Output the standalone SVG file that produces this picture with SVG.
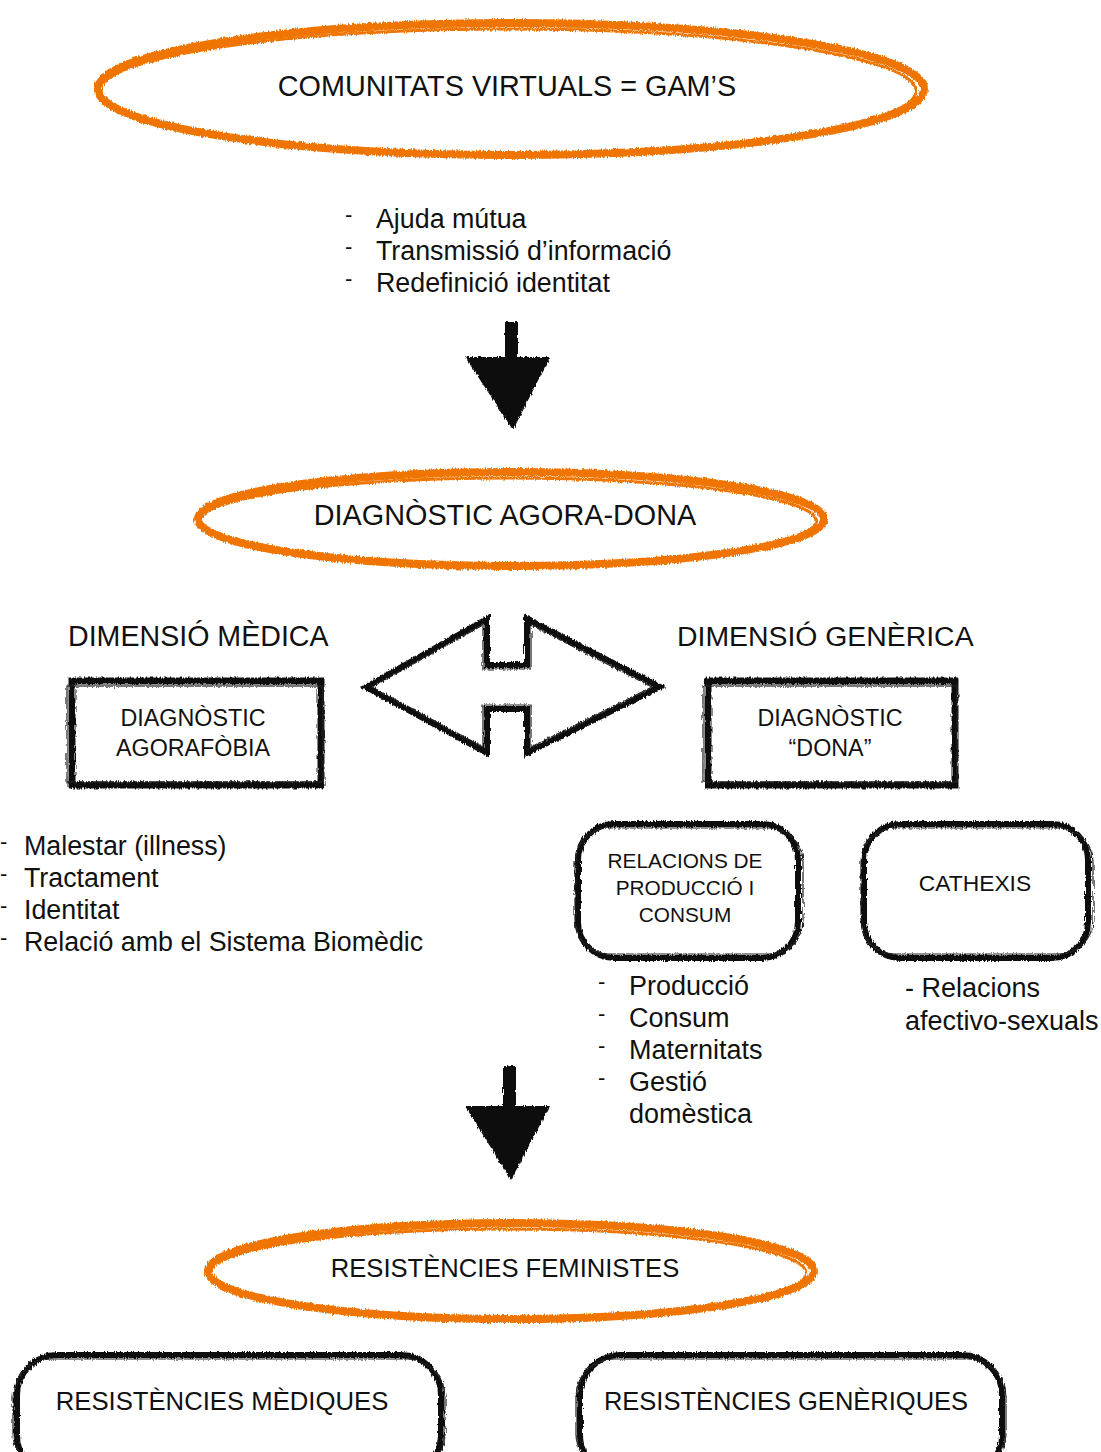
<svg xmlns="http://www.w3.org/2000/svg" width="1101" height="1452" viewBox="0 0 1101 1452">
<defs>
<filter id="rough" x="-5%" y="-5%" width="110%" height="110%">
<feTurbulence type="fractalNoise" baseFrequency="0.9 0.15" numOctaves="2" seed="3" result="n"/>
<feDisplacementMap in="SourceGraphic" in2="n" scale="4" xChannelSelector="R" yChannelSelector="G"/>
</filter>
<style>
.t{font-family:"Liberation Sans",Arial,sans-serif;fill:#111;}
.orange{fill:none;stroke:#F07400;stroke-linecap:round;}
.brush{fill:none;stroke:#111;stroke-linejoin:miter;}
.thin{fill:none;stroke:#222;stroke-width:1.2;}
.arrowfill{fill:#111;}
</style>
</defs>
<rect width="1101" height="1452" fill="#fff"/>

<g id="connectors">
<g id="arrow-down-1" filter="url(#rough)">
<rect x="505" y="322" width="13" height="40" class="arrowfill"/>
<polygon points="465,357 550,357 513,430" class="arrowfill"/>
</g>
<g id="double-arrow" filter="url(#rough)">
<polygon points="366,687 487,619 487,665 527,665 527,619 660,687 527,753 527,709 487,709 487,753" class="brush" stroke-width="6"/>
<polygon points="372,687 483,625 483,669 531,669 531,625 652,687 531,747 531,705 483,705 483,747" class="thin"/>
</g>
<g id="arrow-down-2" filter="url(#rough)">
<rect x="503" y="1066" width="13" height="44" class="arrowfill"/>
<polygon points="465,1106 550,1106 511,1180" class="arrowfill"/>
</g>
</g>

<g id="node-comunitats">
<g filter="url(#rough)">
<ellipse cx="511" cy="89" rx="413" ry="66" class="orange" stroke-width="8"/>
<ellipse cx="508" cy="91" rx="408" ry="62" class="orange" stroke-width="3"/>
</g>
<text x="507" y="96" text-anchor="middle" font-size="28.8" class="t">COMUNITATS VIRTUALS = GAM’S</text>
</g>

<g id="list-gams" class="t" font-size="26.8">
<text x="345" y="222" font-size="22">-</text><text x="376" y="228">Ajuda mútua</text>
<text x="345" y="254" font-size="22">-</text><text x="376" y="260">Transmissió d’informació</text>
<text x="345" y="286" font-size="22">-</text><text x="376" y="292">Redefinició identitat</text>
</g>

<g id="node-diagnostic">
<g filter="url(#rough)">
<ellipse cx="511" cy="519" rx="313" ry="47" class="orange" stroke-width="8"/>
<ellipse cx="508" cy="521" rx="308" ry="43" class="orange" stroke-width="3"/>
</g>
<text x="505" y="525" text-anchor="middle" font-size="28.8" class="t">DIAGNÒSTIC AGORA-DONA</text>
</g>

<g id="label-dim-medica"><text x="68" y="646" font-size="28.6" class="t">DIMENSIÓ MÈDICA</text></g>
<g id="label-dim-generica"><text x="677" y="646" font-size="28.4" class="t">DIMENSIÓ GENÈRICA</text></g>

<g id="node-agorafobia">
<g filter="url(#rough)">
<rect x="72" y="681" width="249" height="104" class="brush" stroke-width="7"/>
<rect x="67" y="686" width="256" height="96" class="thin"/>
</g>
<text x="193" y="726" text-anchor="middle" font-size="23.3" class="t">DIAGNÒSTIC</text>
<text x="193" y="756" text-anchor="middle" font-size="23.3" class="t">AGORAFÒBIA</text>
</g>

<g id="node-dona">
<g filter="url(#rough)">
<rect x="708" y="681" width="247" height="104" class="brush" stroke-width="7"/>
<rect x="703" y="686" width="254" height="96" class="thin"/>
</g>
<text x="830" y="726" text-anchor="middle" font-size="23.3" class="t">DIAGNÒSTIC</text>
<text x="830" y="756" text-anchor="middle" font-size="23.3" class="t">“DONA”</text>
</g>

<g id="list-medica" class="t" font-size="26.8">
<text x="0" y="849" font-size="22">-</text><text x="24" y="855">Malestar (illness)</text>
<text x="0" y="881" font-size="22">-</text><text x="24" y="887">Tractament</text>
<text x="0" y="913" font-size="22">-</text><text x="24" y="919">Identitat</text>
<text x="0" y="945" font-size="22">-</text><text x="24" y="951">Relació amb el Sistema Biomèdic</text>
</g>

<g id="node-relacions">
<g filter="url(#rough)">
<rect x="578" y="824" width="220" height="134" rx="36" class="brush" stroke-width="6"/>
<rect x="575" y="828" width="228" height="126" rx="34" class="thin"/>
</g>
<text x="685" y="868" text-anchor="middle" font-size="20.8" class="t">RELACIONS DE</text>
<text x="685" y="895" text-anchor="middle" font-size="20.8" class="t">PRODUCCIÓ I</text>
<text x="685" y="922" text-anchor="middle" font-size="20.8" class="t">CONSUM</text>
</g>

<g id="node-cathexis">
<g filter="url(#rough)">
<rect x="864" y="824" width="224" height="134" rx="36" class="brush" stroke-width="6"/>
<rect x="861" y="828" width="232" height="126" rx="34" class="thin"/>
</g>
<text x="975" y="891" text-anchor="middle" font-size="22.8" class="t">CATHEXIS</text>
</g>

<g id="list-relacions" class="t" font-size="27">
<text x="598" y="989" font-size="22">-</text><text x="629" y="995">Producció</text>
<text x="598" y="1021" font-size="22">-</text><text x="629" y="1027">Consum</text>
<text x="598" y="1053" font-size="22">-</text><text x="629" y="1059">Maternitats</text>
<text x="598" y="1085" font-size="22">-</text><text x="629" y="1091">Gestió</text>
<text x="629" y="1123">domèstica</text>
</g>

<g id="list-cathexis" class="t" font-size="27">
<text x="905" y="997">- Relacions</text>
<text x="905" y="1030">afectivo-sexuals</text>
</g>

<g id="node-resistencies">
<g filter="url(#rough)">
<ellipse cx="511" cy="1271" rx="303" ry="48" class="orange" stroke-width="8"/>
<ellipse cx="508" cy="1273" rx="298" ry="44" class="orange" stroke-width="3"/>
</g>
<text x="505" y="1277" text-anchor="middle" font-size="25.6" class="t">RESISTÈNCIES FEMINISTES</text>
</g>

<g id="node-res-mediques">
<g filter="url(#rough)">
<rect x="17" y="1355" width="424" height="120" rx="40" class="brush" stroke-width="6"/>
<rect x="13" y="1359" width="432" height="112" rx="38" class="thin"/>
</g>
<text x="222" y="1410" text-anchor="middle" font-size="25.7" class="t">RESISTÈNCIES MÈDIQUES</text>
</g>

<g id="node-res-generiques">
<g filter="url(#rough)">
<rect x="580" y="1355" width="422" height="120" rx="40" class="brush" stroke-width="6"/>
<rect x="576" y="1359" width="430" height="112" rx="38" class="thin"/>
</g>
<text x="786" y="1410" text-anchor="middle" font-size="25.5" class="t">RESISTÈNCIES GENÈRIQUES</text>
</g>
</svg>
